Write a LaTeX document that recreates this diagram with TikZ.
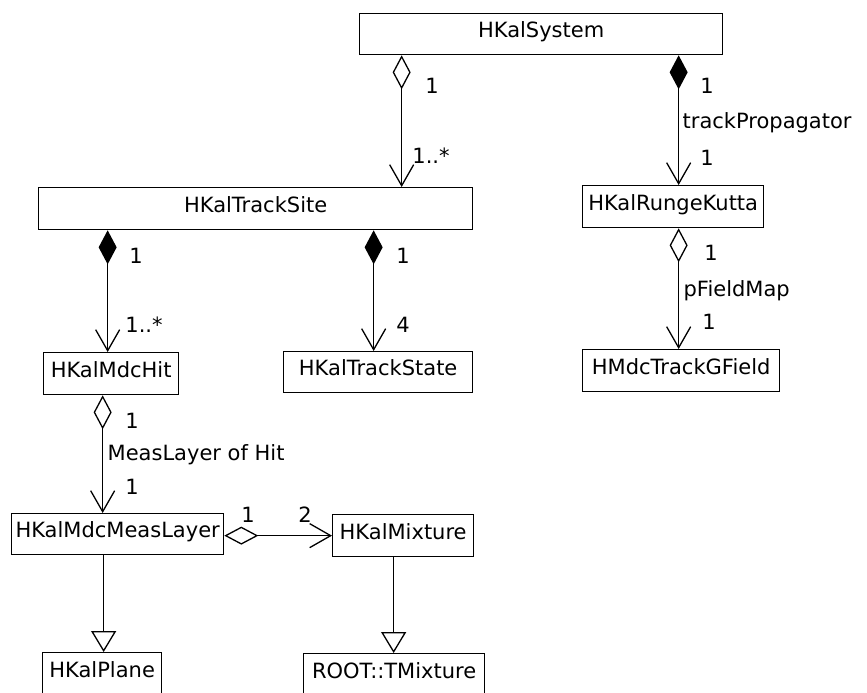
\documentclass[tikz,border=0pt]{standalone}
\usepackage{fontspec}
\setmainfont{DejaVu Sans}
\usetikzlibrary{arrows.meta}
\begin{document}
\begin{tikzpicture}[x=1pt,y=-1pt,
  font=\fontsize{21}{25}\selectfont,
  line width=1.3pt,
  cls/.style={draw, anchor=north west, inner xsep=0pt, inner ysep=0pt,
    minimum height=41pt, text height=16pt, text depth=8.7pt},
  mult/.style={inner sep=0pt, text height=15pt, text depth=0pt},
  agg/.style={{Diamond[open,length=34pt,width=18pt]}-{Straight Barb[length=21pt,width=24pt]}},
  comp/.style={{Diamond[length=34pt,width=18pt]}-{Straight Barb[length=21pt,width=24pt]}},
  inh/.style={-{Triangle[open,length=21pt,width=25pt]}}
]
\useasboundingbox (0,0) rectangle (867,693);
\clip (0,0) rectangle (867,693);

% classes
\node[cls, minimum width=363pt] (sys)   at (359,13)  {HKalSystem};
\node[cls, minimum width=434pt, minimum height=42pt] (site)  at (38,187)  {HKalTrackSite};
\node[cls, minimum width=181pt, minimum height=42pt] (rk)    at (582,185) {HKalRungeKutta};
\node[cls, minimum width=135pt, minimum height=42pt] (hit)   at (43,352)  {HKalMdcHit};
\node[cls, minimum width=189pt] (state) at (283,351) {HKalTrackState};
\node[cls, minimum width=197pt, minimum height=42pt] (field) at (582,349) {HMdcTrackGField};
\node[cls, minimum width=212pt] (meas)  at (11,513)  {HKalMdcMeasLayer};
\node[cls, minimum width=141pt, minimum height=42pt] (mix)   at (332,514) {HKalMixture};
\node[cls, minimum width=119pt, minimum height=60pt, text height=16pt, text depth=27pt] (plane) at (42,652)  {HKalPlane};
\node[cls, minimum width=181pt, minimum height=60pt, text height=16pt, text depth=27pt] (tmix)  at (303,653) {ROOT::TMixture};

% associations
\draw[agg]  ([xshift=-139.5pt]sys.south) -- ([xshift=-139.5pt]sys.south |- site.north);
\draw[comp] ([xshift=137.5pt]sys.south)  -- ([xshift=137.5pt]sys.south |- rk.north);
\draw[comp] ([xshift=-148pt]site.south)  -- ([xshift=-148pt]site.south |- hit.north);
\draw[comp] ([xshift=118pt]site.south)   -- ([xshift=118pt]site.south |- state.north);
\draw[agg]  ([xshift=5.5pt]rk.south)     -- ([xshift=5.5pt]rk.south |- field.north);
\draw[agg]  ([xshift=-8.5pt]hit.south)   -- ([xshift=-8.5pt]hit.south |- meas.north);
\draw[agg]  ([yshift=-1.5pt]meas.east)   -- ([yshift=-1.5pt]meas.east -| mix.west);

% generalizations
\draw[inh] ([xshift=-14pt]meas.south)  -- ([xshift=-14pt]meas.south |- plane.north);
\draw[inh] ([xshift=-9.5pt]mix.south)  -- ([xshift=-9.5pt]mix.south |- tmix.north);

% multiplicities and role names
\node[mult] (m1)  at (432,86)  {1};
\node[mult] (m2)  at (431,156) {1..*};
\node[mult] (m3)  at (707,86)  {1};
\node[mult, anchor=west] (r1) at (682,121) {trackPropagator};
\node[mult] (m4)  at (707,158) {1};
\node[mult] (m5)  at (136,256) {1};
\node[mult] (m6)  at (144,325) {1..*};
\node[mult] (m7)  at (403,256) {1};
\node[mult] (m8)  at (403,325) {4};
\node[mult] (m9)  at (711,253) {1};
\node[mult, anchor=west] (r2) at (683,289) {pFieldMap};
\node[mult] (m10) at (709,322) {1};
\node[mult] (m11) at (132,421) {1};
\node[mult, anchor=west] (r3) at (107,453) {MeasLayer of Hit};
\node[mult] (m12) at (132,487) {1};
\node[mult] (m13) at (248,515) {1};
\node[mult] (m14) at (305,515) {2};
\end{tikzpicture}
\end{document}
